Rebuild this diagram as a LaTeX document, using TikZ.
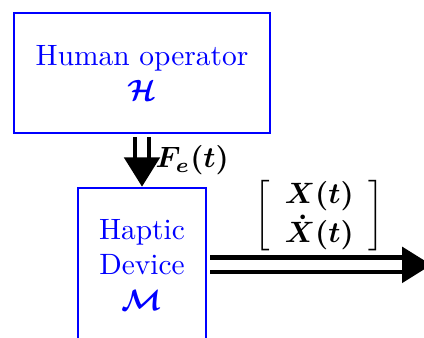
\documentclass[tikz,border=0pt]{standalone}
\usepackage{amsmath, amssymb}
\usepackage{bm}
\usepackage{xcolor}
\usepackage{tikz}
\usetikzlibrary{arrows.meta, positioning}

\begin{document}
\begin{tikzpicture}[
        block/.style={
            rectangle,
            draw=blue,
            line width=0.8pt,
            text=blue,
            align=center
        },
        flow/.style={
            draw=black,
            line width=1.6pt,
            double=white,
            double distance=3.2pt,
            -{Triangle[width=12pt, length=10pt]}
        }
    ]
        \useasboundingbox (0,0) rectangle (5.067,-4.039);

        % Nodes
        \node [block, minimum width=3.06cm, minimum height=1.43cm] (human) at (1.697,-0.872) {Human operator \\ $\bm{\mathcal{H}}$};
        \node [block, below=0.63cm of human, minimum width=1.53cm, minimum height=1.84cm] (haptic) {Haptic \\ Device \\ $\bm{\mathcal{M}}$};
        \coordinate [right=2.68cm of haptic.east] (out);

        % Edges
        \draw [flow, shorten <=1pt] (human) -- node [right=0.1cm, inner sep=1pt] (force) {$\bm{F_e(t)}$} (haptic);
        \draw [flow, shorten <=1pt] (haptic.east) -- node [above=0pt] (state) {$\left[\begin{array}{c} \bm{X(t)} \\ \bm{\dot{X}(t)} \end{array}\right]$} (out);

    \end{tikzpicture}
\end{document}
